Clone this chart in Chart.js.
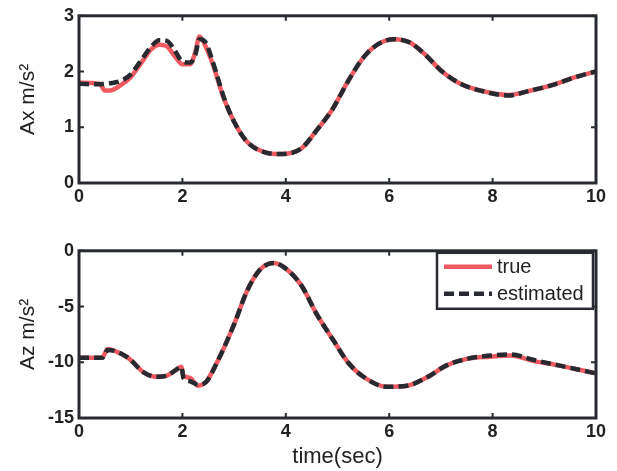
<!DOCTYPE html>
<html>
<head>
<meta charset="utf-8">
<script src="https://cdn.jsdelivr.net/npm/chart.js@4/dist/chart.umd.min.js"></script>
<style>
  body { margin: 0; background: #fff; width: 617px; height: 471px; overflow: hidden; }
  canvas { display: block; }
</style>
</head>
<body>
<canvas id="axChart" width="617" height="235"></canvas>
<canvas id="azChart" width="617" height="236"></canvas>
<script>
// Ax subplot
const axTime = [0, 0.4, 0.5, 0.6, 0.8, 1.0, 1.2, 1.4, 1.55, 1.7, 1.85, 2.0, 2.15, 2.25, 2.33, 2.45, 2.6, 2.8, 3.0, 3.25, 3.6, 3.9, 4.3, 4.6, 4.9, 5.2, 5.5, 5.8, 6.1, 6.4, 6.7, 7.0, 7.4, 7.8, 8.3, 8.7, 9.2, 9.6, 10];
const axTrue = [1.8, 1.78, 1.66, 1.66, 1.75, 1.9, 2.15, 2.4, 2.48, 2.45, 2.28, 2.13, 2.13, 2.35, 2.63, 2.45, 2.1, 1.52, 1.1, 0.74, 0.55, 0.52, 0.62, 0.95, 1.32, 1.82, 2.25, 2.5, 2.58, 2.52, 2.3, 2.02, 1.77, 1.65, 1.58, 1.65, 1.77, 1.9, 2.0];
const axEst = [1.78, 1.77, 1.78, 1.79, 1.83, 1.95, 2.2, 2.45, 2.56, 2.55, 2.38, 2.18, 2.16, 2.3, 2.58, 2.52, 2.14, 1.54, 1.1, 0.74, 0.55, 0.52, 0.62, 0.95, 1.32, 1.82, 2.25, 2.5, 2.58, 2.52, 2.3, 2.02, 1.77, 1.65, 1.57, 1.65, 1.77, 1.9, 2.0];

// Az subplot
const azTime = [0, 0.45, 0.5, 0.55, 0.7, 0.95, 1.25, 1.5, 1.7, 1.9, 1.98, 2.02, 2.15, 2.3, 2.45, 2.65, 3.0, 3.25, 3.5, 3.77, 4.0, 4.3, 4.6, 4.93, 5.2, 5.5, 5.95, 6.35, 6.75, 7.1, 7.5, 7.95, 8.35, 8.8, 9.3, 9.7, 10];
const azTrue = [-9.6, -9.6, -9.2, -8.8, -9.0, -9.6, -10.9, -11.3, -11.2, -10.6, -10.4, -11.2, -11.4, -12.1, -11.8, -10.2, -6.6, -3.6, -1.7, -1.1, -1.6, -3.1, -5.7, -8.1, -10.0, -11.3, -12.2, -12.1, -11.3, -10.3, -9.7, -9.5, -9.4, -9.9, -10.3, -10.7, -11.0];
const azEst = [-9.6, -9.6, -9.3, -8.9, -9.0, -9.6, -10.9, -11.3, -11.2, -10.6, -10.4, -11.4, -11.7, -12.0, -11.8, -10.2, -6.6, -3.6, -1.7, -1.1, -1.6, -3.1, -5.7, -8.1, -10.0, -11.3, -12.2, -12.1, -11.3, -10.3, -9.7, -9.4, -9.3, -9.8, -10.3, -10.7, -11.0];

const xTicks = [0, 2, 4, 6, 8, 10];
const labels = ['true', 'estimated'];

const RED = '#f05a61';
const DARK = '#272b31';
const FONT = 'Liberation Sans, Arial, sans-serif';

function pts(t, v) {
    return t.map((x, i) => ({ x: x, y: v[i] }));
}

// matlab style box with inward ticks
const boxPlugin = {
    id: 'box',
    afterDraw(chart) {
        const ctx = chart.ctx;
        const a = chart.chartArea;
        const xs = chart.scales.x, ys = chart.scales.y;
        ctx.save();
        ctx.strokeStyle = DARK;
        ctx.lineWidth = 2;
        xs.ticks.forEach(t => {
            const px = xs.getPixelForValue(t.value);
            ctx.beginPath();
            ctx.moveTo(px, a.top); ctx.lineTo(px, a.top + 5);
            ctx.moveTo(px, a.bottom); ctx.lineTo(px, a.bottom - 5);
            ctx.stroke();
        });
        ys.ticks.forEach(t => {
            const py = ys.getPixelForValue(t.value);
            ctx.beginPath();
            ctx.moveTo(a.left, py); ctx.lineTo(a.left + 5, py);
            ctx.moveTo(a.right, py); ctx.lineTo(a.right - 5, py);
            ctx.stroke();
        });
        ctx.lineWidth = 3;
        ctx.strokeRect(a.left, a.top, a.right - a.left, a.bottom - a.top);
        ctx.restore();
    }
};

const legendBoxPlugin = {
    id: 'legendBox',
    afterDraw(chart) {
        const ctx = chart.ctx;
        const a = chart.chartArea;
        const w = 156, h = 56;
        const left = a.right - 3 - w, top = a.top + 2;
        ctx.save();
        ctx.fillStyle = '#fff';
        ctx.fillRect(left, top, w, h);
        ctx.strokeStyle = DARK;
        ctx.lineWidth = 2.5;
        ctx.strokeRect(left, top, w, h);
        const rows = [top + 14, top + 41];
        chart.data.datasets.slice().sort((p, q) => q.order - p.order).forEach((ds, i) => {
            ctx.beginPath();
            ctx.strokeStyle = ds.borderColor;
            ctx.lineWidth = ds.borderWidth;
            ctx.setLineDash(ds.borderDash || []);
            ctx.moveTo(left + 7, rows[i]);
            ctx.lineTo(left + 55, rows[i]);
            ctx.stroke();
            ctx.setLineDash([]);
            ctx.fillStyle = '#222';
            ctx.font = '20px ' + FONT;
            ctx.textBaseline = 'middle';
            ctx.fillText(ds.label, left + 60, rows[i] + 1);
        });
        ctx.restore();
    }
};

function makeChart(id, time, trueVals, estVals, yMin, yMax, yStep, yTitle, xTitle, pad, xHeight, withLegend) {
    return new Chart(document.getElementById(id), {
        type: 'line',
        data: {
            datasets: [{
                label: labels[0],
                data: pts(time, trueVals),
                borderColor: RED,
                borderWidth: 4.5,
                pointRadius: 0,
                cubicInterpolationMode: 'monotone',
                order: 2
            }, {
                label: labels[1],
                data: pts(time, estVals),
                borderColor: DARK,
                borderWidth: 4.5,
                borderDash: [10, 5],
                pointRadius: 0,
                cubicInterpolationMode: 'monotone',
                order: 1
            }]
        },
        options: {
            responsive: false,
            animation: false,
            layout: { padding: pad },
            plugins: { legend: { display: false }, tooltip: { enabled: false } },
            scales: {
                x: {
                    type: 'linear',
                    min: 0, max: 10,
                    afterBuildTicks: s => { s.ticks = xTicks.map(v => ({ value: v })); },
                    ticks: { color: '#222', font: { family: FONT, size: 18, weight: 'bold' }, padding: 3, maxRotation: 0 },
                    grid: { display: false, drawTicks: false },
                    border: { display: false },
                    title: { display: !!xTitle, text: xTitle, color: '#222', font: { family: FONT, size: 22 }, padding: { top: 0, bottom: 1 } },
                    afterFit: s => { s.height = xHeight; }
                },
                y: {
                    min: yMin, max: yMax,
                    ticks: { stepSize: yStep, color: '#222', font: { family: FONT, size: 18, weight: 'bold' }, padding: 5 },
                    grid: { display: false, drawTicks: false },
                    border: { display: false },
                    title: { display: true, text: yTitle, color: '#222', font: { family: FONT, size: 21 }, padding: { top: 16, bottom: 0 } },
                    afterFit: s => { s.width = 79; }
                }
            }
        },
        plugins: withLegend ? [boxPlugin, legendBoxPlugin] : [boxPlugin]
    });
}

makeChart('axChart', axTime, axTrue, axEst, 0, 3, 1, 'Ax m/s²', '', { top: 15, right: 21, left: 0, bottom: 0 }, 52, false);
makeChart('azChart', azTime, azTrue, azEst, -15, 0, 5, 'Az m/s²', 'time(sec)', { top: 14, right: 21, left: 0, bottom: 0 }, 53, true);
</script>
</body>
</html>
